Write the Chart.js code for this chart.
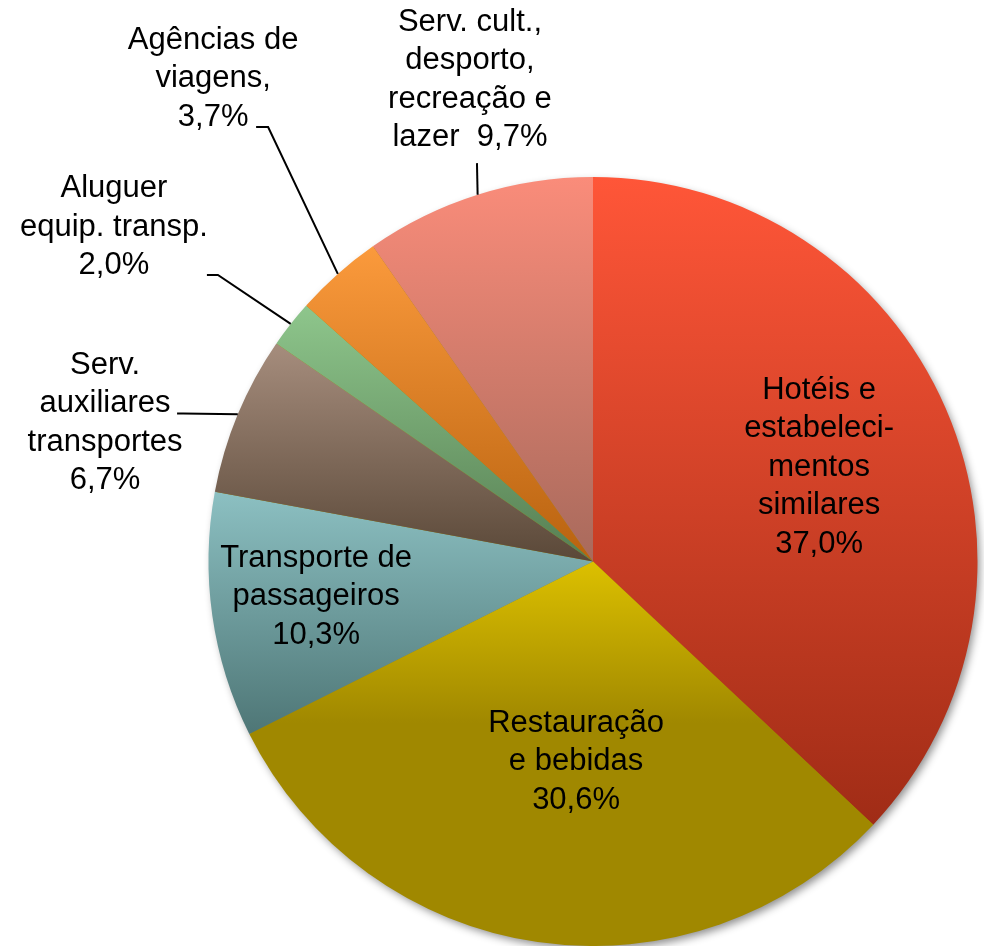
<!DOCTYPE html>
<html>
<head>
<meta charset="utf-8">
<script src="https://cdn.jsdelivr.net/npm/chart.js@4.4.1/dist/chart.umd.min.js"></script>
<style>
  html, body { margin: 0; padding: 0; background: #fff; }
  #wrap { width: 984px; height: 946px; }
</style>
</head>
<body>
<div id="wrap"><canvas id="pieChart"></canvas></div>
<script>
// data (shares in %)
const categories = [
  "Hotéis e estabelecimentos similares",
  "Restauração e bebidas",
  "Transporte de passageiros",
  "Serv. auxiliares transportes",
  "Aluguer equip. transp.",
  "Agências de viagens",
  "Serv. cult., desporto, recreação e lazer"
];
const shares = [37.0, 30.6, 10.3, 6.7, 2.0, 3.7, 9.7];

// how each label is broken into lines ({v} = the share)
const labelLines = [
  ["Hotéis e", "estabeleci-", "mentos", "similares", "{v}"],
  ["Restauração", "e bebidas", "{v}"],
  ["Transporte de", "passageiros", "{v}"],
  ["Serv.", "auxiliares", "transportes", "{v}"],
  ["Aluguer", "equip. transp.", "{v}"],
  ["Agências de", "viagens,", "{v}"],
  ["Serv. cult.,", "desporto,", "recreação e", "lazer  {v}"]
];

// top / bottom colours of each slice gradient
const topColors = ["#ff5638", "#dcc000", "#8cc0c2", "#a68d7d", "#8ec68c", "#fb9a3c", "#fa8c7a"];
const midStops  = [null, 0.42, null, null, null, null, null];
const botColors = ["#a02c16", "#a08800", "#4e7676", "#5a4838", "#567e52", "#b8620f", "#a86a5c"];

// label placement, relative to pie centre in radii; leader attach offsets in px
const labelLayout = [
  { fx: 0.588, fy: -0.245 },
  { fx: -0.044, fy: 0.521 },
  { fx: -0.720, fy: 0.092 },
  { fx: -1.269, fy: -0.360, leader: { ax: 72, ay: -9.5, h: 6 } },
  { fx: -1.246, fy: -0.870, leader: { ax: 93, ay: 48, h: 11 } },
  { fx: -0.988, fy: -1.255, leader: { ax: 43, ay: 48, h: 12 } },
  { fx: -0.320, fy: -1.252, leader: { ax: 7, ay: 83, h: 0 } }
];

const fmt = v => v.toFixed(1).replace(".", ",") + "%";
const total = shares.reduce((a, b) => a + b, 0);

function sliceGradient(context) {
  const chart = context.chart;
  const area = chart.chartArea;
  const i = context.dataIndex;
  if (!area || i === undefined) return topColors[i || 0];
  const cx = (area.left + area.right) / 2;
  const cy = (area.top + area.bottom) / 2;
  const r = Math.min(area.right - area.left, area.bottom - area.top) / 2;
  let before = 0;
  for (let k = 0; k < i; k++) before += shares[k];
  const a0 = before / total * Math.PI * 2 - Math.PI / 2;
  const a1 = (before + shares[i]) / total * Math.PI * 2 - Math.PI / 2;
  const ys = [cy, cy + r * Math.sin(a0), cy + r * Math.sin(a1)];
  const inRange = a => {
    for (let k = -1; k <= 2; k++) {
      const t = a + k * Math.PI * 2;
      if (t >= a0 && t <= a1) return true;
    }
    return false;
  };
  if (inRange(Math.PI / 2)) ys.push(cy + r);
  if (inRange(-Math.PI / 2)) ys.push(cy - r);
  const g = chart.ctx.createLinearGradient(0, Math.min(...ys), 0, Math.max(...ys));
  g.addColorStop(0, topColors[i]);
  if (midStops[i] !== null) g.addColorStop(midStops[i], botColors[i]);
  g.addColorStop(1, botColors[i]);
  return g;
}

const pieShadow = {
  id: "pieShadow",
  beforeDatasetsDraw(chart) {
    const arc = chart.getDatasetMeta(0).data[0];
    if (!arc) return;
    const ctx = chart.ctx;
    ctx.save();
    ctx.shadowColor = "rgba(0,0,0,0.45)";
    ctx.shadowBlur = 9;
    ctx.shadowOffsetX = 3;
    ctx.shadowOffsetY = 4;
    ctx.fillStyle = "#a08800";
    ctx.beginPath();
    ctx.arc(arc.x, arc.y, arc.outerRadius - 1, 0, Math.PI * 2);
    ctx.fill();
    ctx.restore();
  }
};

const sliceLabels = {
  id: "sliceLabels",
  afterDatasetsDraw(chart) {
    const ctx = chart.ctx;
    const arcs = chart.getDatasetMeta(0).data;
    const lineH = 38.5;
    ctx.save();
    ctx.font = "31px 'Liberation Sans', Arial, sans-serif";
    ctx.fillStyle = "#000";
    ctx.textAlign = "center";
    ctx.textBaseline = "middle";
    arcs.forEach((arc, i) => {
      const lay = labelLayout[i];
      const r = arc.outerRadius;
      const bx = arc.x + lay.fx * r;
      const by = arc.y + lay.fy * r;
      const lines = labelLines[i].map(s => s.replace("{v}", fmt(shares[i])));
      lines.forEach((s, j) => {
        ctx.fillText(s, bx, by + (j - (lines.length - 1) / 2) * lineH);
      });
      if (lay.leader) {
        const mid = (arc.startAngle + arc.endAngle) / 2;
        const ex = arc.x + Math.cos(mid) * r;
        const ey = arc.y + Math.sin(mid) * r;
        const ax = bx + lay.leader.ax;
        const ay = by + lay.leader.ay;
        ctx.strokeStyle = "#000";
        ctx.lineWidth = 2;
        ctx.beginPath();
        ctx.moveTo(ax, ay);
        ctx.lineTo(ax + lay.leader.h, ay);
        ctx.lineTo(ex, ey);
        ctx.stroke();
      }
    });
    ctx.restore();
  }
};

new Chart(document.getElementById("pieChart").getContext("2d"), {
  type: "pie",
  data: {
    labels: categories,
    datasets: [{
      data: shares,
      backgroundColor: sliceGradient,
      borderWidth: 0
    }]
  },
  options: {
    responsive: true,
    maintainAspectRatio: false,
    animation: false,
    layout: { padding: { left: 208, right: 6, top: 177, bottom: 0 } },
    plugins: {
      legend: { display: false },
      tooltip: { enabled: false }
    }
  },
  plugins: [pieShadow, sliceLabels]
});
</script>
</body>
</html>
